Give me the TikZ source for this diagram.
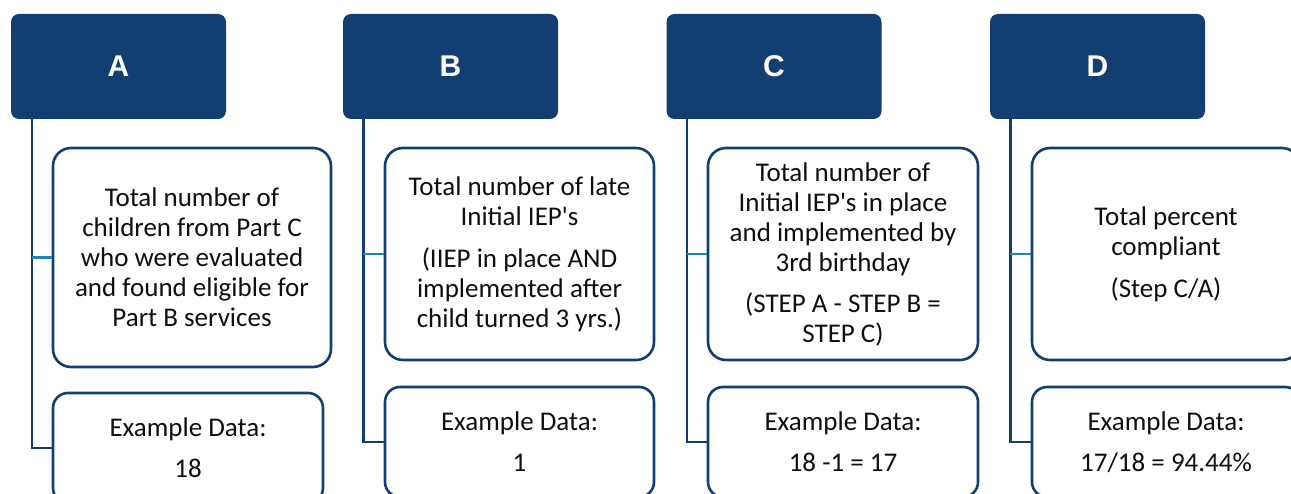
\documentclass[tikz,border=0pt]{standalone}
\usepackage{fontspec}
\setmainfont{Carlito}
\newfontfamily\bodyfont{Carlito}
\newfontfamily\headfont{Liberation Sans}
\definecolor{navy}{RGB}{19,62,114}
\definecolor{branchblue}{RGB}{28,134,186}
\definecolor{inktext}{RGB}{15,15,15}
\tikzset{
  head/.style={draw=none, fill=navy, rounded corners=8pt, minimum width=215pt,
    minimum height=105pt, inner sep=0pt, text=white,
    font=\headfont\bfseries\fontsize{30}{36}\selectfont},
  infobox/.style={draw=navy, line width=2.6pt, rounded corners=18pt, fill=white,
    align=center, inner sep=0pt, text=inktext,
    font=\bodyfont\fontsize{27}{30}\selectfont},
  topbox/.style={infobox, minimum width=269pt, minimum height=212pt},
  botbox/.style={infobox, rounded corners=15pt, minimum width=269pt, minimum height=110pt},
  trunk/.style={draw=navy, line width=2.6pt},
  branch/.style={draw=branchblue, line width=2.8pt}
}
\begin{document}
\begin{tikzpicture}[x=1pt,y=-1pt]
\useasboundingbox (0,0) rectangle (1291,494);
\clip (0,0) rectangle (1291,494);
% headers
\node[head] (hA) at (118.5,66.5) {A};
\node[head] (hB) at (450.5,66.5) {B};
\node[head] (hC) at (774,66.5) {C};
\node[head] (hD) at (1097.5,66.5) {D};
% trunk coordinates
\coordinate (tA) at ([xshift=21pt]hA.south west);
\coordinate (tB) at ([xshift=20.5pt]hB.south west);
\coordinate (tC) at ([xshift=20.5pt]hC.south west);
\coordinate (tD) at ([xshift=20.5pt]hD.south west);
% description boxes
\node[topbox, minimum width=278pt, minimum height=219pt] (dA) at (192,257.5)
  {Total number of\\children from Part C\\who were evaluated\\and found eligible for\\Part B services};
\node[topbox] (dB) at (519.5,254)
  {Total number of late\\Initial IEP's\\[12pt](IIEP in place AND\\implemented after\\child turned 3 yrs.)};
\node[topbox, minimum width=270pt] (dC) at (843,254)
  {Total number of\\Initial IEP's in place\\and implemented by\\3rd birthday\\[11pt](STEP A - STEP B =\\STEP C)};
\node[topbox, minimum width=268pt] (dD) at (1166,254)
  {Total percent\\compliant\\[12pt](Step C/A)};
% example boxes
\node[botbox, minimum width=270pt] (eA) at (188,448) {Example Data:\\[11pt]18};
\node[botbox] (eB) at (519.5,442) {Example Data:\\[11pt]1};
\node[botbox, minimum width=270pt] (eC) at (843,442) {Example Data:\\[11pt]18 -1 = 17};
\node[botbox, minimum width=268pt] (eD) at (1166,442) {Example Data:\\[11pt]17/18 = 94.44\%};
% connectors
\draw[trunk] (tA) |- (eA.west);
\draw[trunk] (tB) |- (eB.west);
\draw[trunk] (tC) |- (eC.west);
\draw[trunk] (tD) |- (eD.west);
\draw[branch] (tA |- dA.west) -- (dA.west);
\draw[branch] (tB |- dB.west) -- (dB.west);
\draw[branch] (tC |- dC.west) -- (dC.west);
\draw[branch] (tD |- dD.west) -- (dD.west);
\end{tikzpicture}
\end{document}
